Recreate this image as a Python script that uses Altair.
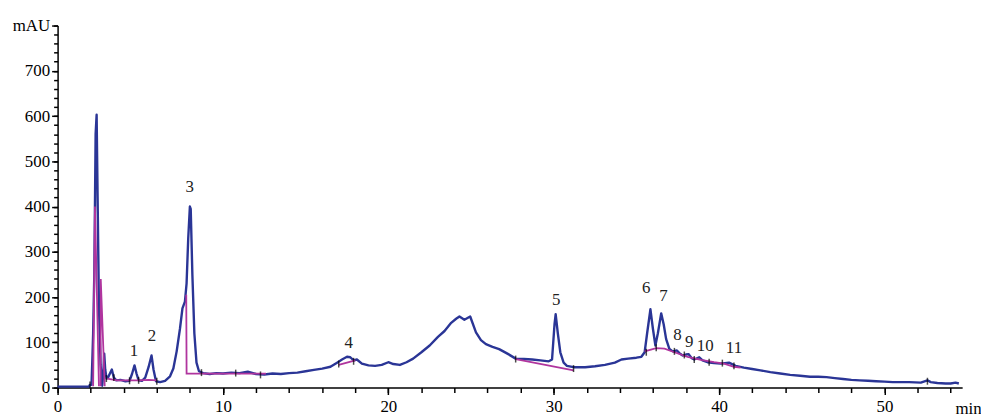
import altair as alt
import pandas as pd

# ---- chromatogram trace (min, mAU) ----
trace_t = [0.0, 1.9, 1.95, 2.05, 2.1, 2.15, 2.22, 2.3, 2.36, 2.42, 2.5, 2.6, 2.7, 2.76, 2.82, 2.88,
           2.96, 3.05, 3.15, 3.28, 3.4, 3.55, 3.8, 4.1, 4.35, 4.5, 4.65, 4.78, 4.9, 5.1, 5.3, 5.5,
           5.68, 5.8, 5.95, 6.2, 6.5, 6.8, 7.0, 7.2, 7.4, 7.55, 7.7, 7.8, 7.9, 8.0, 8.05, 8.15,
           8.27, 8.4, 8.55, 8.8, 9.2, 9.6, 10.0, 10.5, 11.0, 11.5, 12.0, 12.5, 13.0, 13.5, 14.0,
           14.5, 15.0, 15.5, 16.0, 16.5, 16.9, 17.2, 17.5, 17.7, 17.9, 18.1, 18.4, 18.8, 19.2,
           19.6, 20.0, 20.3, 20.7, 21.1, 21.5, 22.0, 22.5, 23.0, 23.4, 23.8, 24.1, 24.3, 24.6,
           24.95, 25.3, 25.6, 25.9, 26.3, 26.7, 27.2, 27.7, 28.2, 28.7, 29.2, 29.7, 29.9, 30.05,
           30.12, 30.25, 30.4, 30.6, 30.8, 31.2, 31.9, 32.5, 33.1, 33.7, 34.1, 34.5, 35.0, 35.3,
           35.5, 35.65, 35.85, 36.0, 36.15, 36.3, 36.5, 36.65, 36.8, 37.0, 37.2, 37.45, 37.6,
           37.8, 38.0, 38.15, 38.35, 38.5, 38.8, 39.0, 39.3, 39.7, 40.1, 40.6, 41.0, 41.5, 42.0,
           42.5, 43.1, 43.7, 44.3, 44.9, 45.5, 46.0, 46.5, 47.0, 47.5, 48.0, 48.5, 49.0, 49.5,
           50.0, 50.5, 51.0, 51.5, 52.2, 52.6, 52.8, 53.2, 53.7, 54.0, 54.3, 54.5]
trace_v = [2, 2, 6, 6, 60, 120, 250, 560, 603, 420, 180, 50, 4, 30, 75, 40,
           20, 22, 30, 40, 22, 16, 17, 14, 15, 30, 49, 30, 16, 15, 22, 45,
           71, 40, 14, 12, 15, 25, 42, 80, 130, 175, 190, 230, 330, 400, 395, 250,
           120, 55, 36, 32, 30, 32, 31, 33, 32, 35, 30, 29, 31, 30, 32,
           33, 36, 39, 42, 46, 55, 62, 68, 67, 60, 62, 53, 49, 48,
           50, 56, 52, 50, 56, 64, 78, 93, 112, 125, 143, 152, 157, 150,
           157, 122, 105, 96, 90, 85, 75, 64, 63, 62, 60, 58, 62, 140,
           162, 120, 78, 55, 48, 45, 45, 47, 50, 55, 62, 64, 66, 68,
           78, 120, 173, 130, 93, 120, 164, 140, 107, 85, 80, 82, 76,
           71, 73, 74, 65, 62, 67, 60, 56, 54, 53, 55, 48, 44, 41,
           38, 34, 31, 28, 26, 24, 24, 23, 21, 19, 17, 16, 15, 14,
           13, 12, 12, 12, 11, 16, 12, 10, 9, 9, 11, 9]

# ---- integration baselines (magenta) ----
base_seg = ["a", "a", "a", "b", "b", "b", "c", "c", "c", "c", "c", "c",
            "d", "d", "d", "e", "e", "f", "f",
            "g", "g", "g", "g", "g", "g", "g", "g", "g", "g"]
base_t = [2.15, 2.26, 2.5, 2.6, 2.61, 2.85, 3.0, 3.6, 4.4, 4.9, 5.5, 6.0,
          7.78, 7.8, 12.6, 17.0, 18.0, 27.7, 31.2,
          35.5, 36.2, 36.7, 37.3, 38.1, 38.9, 39.7, 40.3, 40.9, 41.3]
base_v = [3, 400, 3, 3, 240, 3, 20, 16, 16, 16, 17, 16,
          205, 31, 31, 50, 60, 63, 38,
          80, 87, 86, 78, 68, 61, 56, 53, 46, 44]

# ---- peak start/end markers ----
mark_t = [1.96, 2.95, 3.4, 4.35, 4.9, 6.0, 8.7, 10.77, 12.27, 17.0, 17.9, 27.7, 31.2,
          35.6, 36.2, 37.3, 37.9, 38.5, 39.4, 40.2, 40.9, 52.6]
mark_v = [6, 20, 22, 15, 16, 14, 33, 32, 28, 52, 58, 63, 42,
          78, 88, 80, 72, 62, 56, 54, 48, 14]

# ---- peak labels ----
peak_ids = ["1", "2", "3", "4", "5", "6", "7", "8", "9", "10", "11"]
label_t = [4.62, 5.7, 7.99, 17.6, 30.15, 35.6, 36.64, 37.48, 38.2, 39.16, 40.9]
label_v = [81, 114, 443, 99, 193, 221, 202, 116, 101, 92, 88]

X_DOMAIN = [0, 54.7]
Y_DOMAIN = [0, 800]
x_major = list(range(0, 51, 10))
x_minor = list(range(0, 55, 2))
y_major = list(range(0, 801, 100))
y_minor = list(range(0, 801, 20))

FONT = "Liberation Serif"
BLUE = "#2a3596"
MAGENTA = "#b0359e"

trace = pd.DataFrame({"t": trace_t, "v": trace_v})
base = pd.DataFrame({"seg": base_seg, "t": base_t, "v": base_v})
marks = pd.DataFrame({"t": mark_t, "v": mark_v})
labels = pd.DataFrame({"id": peak_ids, "t": label_t, "v": label_v})

xs = alt.Scale(domain=X_DOMAIN, nice=False, zero=False)
ys = alt.Scale(domain=Y_DOMAIN, nice=False)

x_axis = alt.Axis(
    values=x_major, orient="bottom", tickSize=7, labelPadding=4,
    labelFlush=False, labelOverlap=False, grid=False,
    title="min", titleX=918, titleY=26, titleAlign="center", titleBaseline="alphabetic",
    titleFont=FONT, titleFontSize=17, titleFontWeight="normal", titleColor="black",
)
y_axis = alt.Axis(
    values=y_major, orient="left", tickSize=6, labelPadding=2,
    labelExpr="datum.value === 800 ? 'mAU' : datum.label",
    labelFlush=False, labelOverlap=False, grid=False, title=None,
)
x_minor_axis = alt.Axis(values=x_minor, orient="bottom", tickSize=5, labels=False,
                        domain=False, grid=False, title=None)
y_minor_axis = alt.Axis(values=y_minor, orient="left", tickSize=4, labels=False,
                        domain=False, grid=False, title=None)

line = alt.Chart(trace).mark_line(color=BLUE, strokeWidth=2.4, strokeJoin="round").encode(
    x=alt.X("t:Q", scale=xs, axis=x_axis), y=alt.Y("v:Q", scale=ys, axis=y_axis))
baseline = alt.Chart(base).mark_line(color=MAGENTA, strokeWidth=1.8).encode(
    x=alt.X("t:Q", scale=xs, axis=x_minor_axis), y=alt.Y("v:Q", scale=ys, axis=y_minor_axis),
    detail="seg:N")
ticks = alt.Chart(marks).mark_tick(orient="vertical", size=7, thickness=1.5, color="black").encode(
    x=alt.X("t:Q", scale=xs, axis=None), y=alt.Y("v:Q", scale=ys, axis=None))
text = alt.Chart(labels).mark_text(font=FONT, fontSize=17, baseline="middle", align="center",
                                   color="#222222").encode(
    x=alt.X("t:Q", scale=xs, axis=None), y=alt.Y("v:Q", scale=ys, axis=None), text="id:N")

chart = alt.layer(line, baseline, ticks, text).resolve_axis(
    x="independent", y="independent"
).properties(
    width=912, height=365,
    background="white",
    autosize=alt.AutoSizeParams(type="none"),
    padding={"left": 50, "top": 16, "right": 19, "bottom": 30},
).configure_view(stroke=None).configure_axis(
    domainColor="black", domainWidth=1.5, tickColor="black", tickWidth=1.5,
    labelFont=FONT, labelFontSize=17, labelColor="black",
)

chart.save("out.html", embed_options={"renderer": "svg", "actions": False})
